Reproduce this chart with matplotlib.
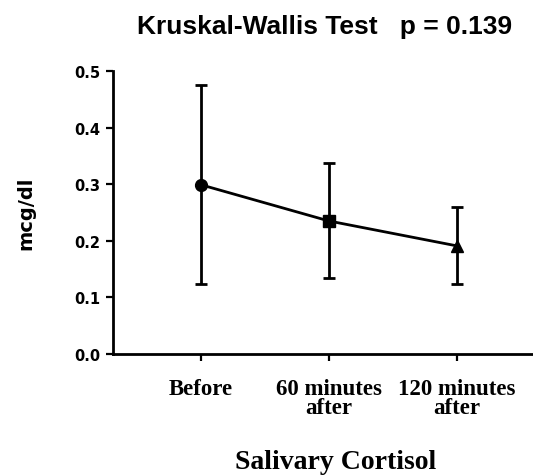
import numpy as np
import matplotlib
matplotlib.use("Agg")
import matplotlib.pyplot as plt

# values
groups = ["Before", "60 minutes\nafter", "120 minutes\nafter"]
means = [0.299, 0.235, 0.191]
err_low = [0.124, 0.134, 0.124]
err_high = [0.475, 0.337, 0.259]
markers = ["o", "s", "^"]
yticks = [0.0, 0.1, 0.2, 0.3, 0.4, 0.5]

sans = ["DejaVu Sans"]
serif = ["Liberation Serif", "DejaVu Serif"]

fig = plt.figure(figsize=(5.33, 4.77), dpi=100)
ax = fig.add_axes([0.212, 0.2558, 0.788, 0.5932])

x = np.arange(len(groups))
means = np.array(means)
lo = means - np.array(err_low)
hi = np.array(err_high) - means

ax.plot(x, means, color="black", lw=2.0, zorder=2)
ax.errorbar(x, means, yerr=[lo, hi], fmt="none", ecolor="black",
            elinewidth=2.0, capsize=4, capthick=2.0, zorder=3)
for xi, yi, m in zip(x, means, markers):
    ax.plot(xi, yi, marker=m, color="black", ms=8.5, zorder=4)

ax.set_xlim(-0.6875, 2.594)
ax.set_ylim(0, 0.5)
ax.set_yticks(yticks)
ax.set_yticklabels([f"{t:.1f}" for t in yticks], family=sans,
                   fontweight="bold", fontsize=10.5)
ax.set_xticks(x)
ax.set_xticklabels(groups, family=serif, fontweight="bold", fontsize=16.5,
                   linespacing=0.9, va="top")

for s in ["top", "right"]:
    ax.spines[s].set_visible(False)
for s in ["left", "bottom"]:
    ax.spines[s].set_linewidth(2.0)
ax.tick_params(axis="y", length=5, width=1.6, pad=4)
ax.tick_params(axis="x", length=5, width=1.6, pad=12)

fig.text(0.609, 1 - 27 / 477, "Kruskal-Wallis Test   p = 0.139",
         family=["Liberation Sans", "DejaVu Sans"], fontweight="bold",
         fontsize=19, ha="center", va="center")
fig.text(0.049, 1 - 213 / 477, "mcg/dl", family=sans, fontweight="bold",
         fontsize=14, rotation=90, ha="center", va="center")
fig.text(0.63, 1 - 463 / 477, "Salivary Cortisol", family=serif,
         fontweight="bold", fontsize=20, ha="center", va="center")

fig.savefig("out.png", dpi=100)
